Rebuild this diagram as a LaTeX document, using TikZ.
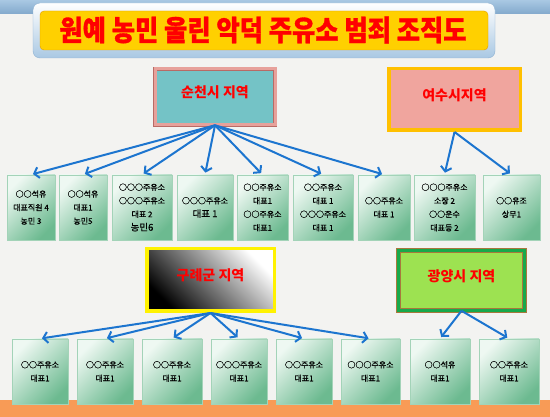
\documentclass[tikz,border=0pt]{standalone}
\usepackage{fontspec}
\newfontfamily\krfont{Noto Sans CJK KR}
\newfontfamily\krbox[FakeBold=0.8]{Noto Sans CJK KR}
\newfontfamily\krtitle[BoldFeatures={FakeBold=1.2}]{Noto Sans CJK KR}
\usetikzlibrary{arrows.meta}
\definecolor{paper}{HTML}{F3F3F1}
\definecolor{bandblue}{HTML}{82A9CC}
\definecolor{bandorange}{HTML}{F89B56}
\definecolor{frameblue}{HTML}{A9C8E3}
\definecolor{frameedge}{HTML}{8DB1D2}
\definecolor{titlegold}{HTML}{FFD000}
\definecolor{titleedge}{HTML}{E39B00}
\definecolor{linkblue}{HTML}{1C75CF}
\definecolor{boxmint}{HTML}{EEF8F2}
\definecolor{boxgreen}{HTML}{6CBA90}
\definecolor{boxedge}{HTML}{A3D3B8}
\definecolor{scteal}{HTML}{74C3C6}
\definecolor{scpink}{HTML}{E7A19B}
\definecolor{scedge}{HTML}{B86B66}
\definecolor{yspink}{HTML}{F0A59E}
\definecolor{ysgold}{HTML}{FFC000}
\definecolor{gygreen}{HTML}{9DE251}
\definecolor{gyband}{HTML}{17A94B}
\definecolor{gyedge}{HTML}{A8783C}
\tikzset{%
  areabox/.style = {shape=rectangle, align=center, inner sep=0pt, text depth=10pt,%
                    font=\krfont\bfseries\fontsize{14}{16}\selectfont, text=red},%
  member/.style  = {shape=rectangle, draw=boxedge, line width=0.8pt, align=center,%
                    inner sep=0pt, minimum height=65pt,%
                    top color=boxmint, bottom color=boxgreen, shading angle=45,%
                    font=\krbox\fontsize{8}{13.5}\selectfont},%
  link/.style    = {draw=linkblue, line width=2pt,%
                    -{Straight Barb[length=4.5pt,width=11pt]}, shorten >=2pt}%
}

\begin{document}
\begin{tikzpicture}[x=1pt,y=-1pt]
  \useasboundingbox (0,0) rectangle (550,417);
  \fill[paper] (0,0) rectangle (550,417);
  \shade[top color=frameblue, bottom color=bandblue] (0,0) rectangle (550,14);
  \fill[bandorange] (0,400) rectangle (550,417);

  % title
  \node (titleframe) [rounded corners=7pt, draw=frameedge, top color=white,
    bottom color=frameblue, minimum width=462pt, minimum height=55pt] at (264,30.5) {};
  \node (titlebox) [rounded corners=4pt, draw=titleedge, fill=titlegold,
    minimum width=448pt, minimum height=39pt] at (titleframe) {};
  \node (title) [text=red, font=\krtitle\bfseries\fontsize{25.3}{25.3}\selectfont] at (263,30)
    {\scalebox{1}[1.12]{원예 농민 울린 악덕 주유소 범죄 조직도}};

  % areas
  \node (suncheon) [areabox, fill=scteal, draw=scedge, double=scpink, double distance=3pt,
    line width=0.6pt, minimum width=120pt, minimum height=56pt] at (215,97) {순천시 지역};
  \node (yeosu) [areabox, fill=yspink, draw=ysgold, line width=3.5pt,
    minimum width=131.5pt, minimum height=61.5pt] at (454.5,99.5) {여수시지역};
  \node (gurye) [areabox, draw=yellow, line width=3.5pt, top color=white, bottom color=black,
    shading angle=-45, minimum width=127.5pt, minimum height=62.5pt] at (210.5,280) {구례군 지역};
  \node (gwangyang) [areabox, fill=gygreen, draw=gyedge, double=gyband, double distance=3.5pt,
    line width=0.6pt, minimum width=126pt, minimum height=60pt] at (461.5,280.5) {광양시 지역};

  % suncheon members
  \node (sc1) [member, minimum width=48pt] at (31,207.5) {○○석유\\대표직원 4\\농민 3};
  \node (sc2) [member, minimum width=48pt] at (83,207.5) {○○석유\\대표1\\농민5};
  \node (sc3) [member, minimum width=60pt] at (142,207.5)
    {○○○주유소\\○○○주유소\\대표 2\\{\fontsize{9.5}{13.5}\selectfont 농민6}};
  \node (sc4) [member, minimum width=56pt] at (205,207.5)
    {○○○주유소\\{\fontsize{9.5}{13.5}\selectfont 대표 1}};
  \node (sc5) [member, minimum width=51pt] at (262.5,207.5) {○○주유소\\대표1\\○○주유소\\대표1};
  \node (sc6) [member, minimum width=60pt] at (323,207.5) {○○주유소\\대표 1\\○○○주유소\\대표 1};
  \node (sc7) [member, minimum width=52pt] at (384,207.5) {○○주유소\\대표 1};
  % yeosu members
  \node (ys1) [member, minimum width=61pt] at (444.5,207.5) {○○○주유소\\소장 2\\○○운수\\대표등 2};
  \node (ys2) [member, minimum width=57pt] at (511.5,207.5) {○○유조\\상무1};
  % gurye members
  \node (gr1) [member, minimum width=56pt] at (40,371.5) {○○주유소\\대표1};
  \node (gr2) [member, minimum width=56pt] at (105,371.5) {○○주유소\\대표1};
  \node (gr3) [member, minimum width=60pt] at (172,371.5) {○○주유소\\대표1};
  \node (gr4) [member, minimum width=56pt] at (239,371.5) {○○○주유소\\대표1};
  \node (gr5) [member, minimum width=56pt] at (304,371.5) {○○주유소\\대표1};
  \node (gr6) [member, minimum width=59pt] at (370.5,371.5) {○○○주유소\\대표1};
  % gwangyang members
  \node (gy1) [member, minimum width=60pt] at (440,371.5) {○○석유\\대표1};
  \node (gy2) [member, minimum width=60pt] at (509,371.5) {○○주유소\\대표1};

  % links
  \foreach \i in {1,...,7}
    \draw[link] (suncheon.south) -- (sc\i.north);
  \foreach \i in {1,2}
    \draw[link] (yeosu.south) -- (ys\i.north);
  \foreach \i in {1,...,6}
    \draw[link] (gurye.south) -- (gr\i.north);
  \foreach \i in {1,2}
    \draw[link] (gwangyang.south) -- (gy\i.north);
\end{tikzpicture}
\end{document}
